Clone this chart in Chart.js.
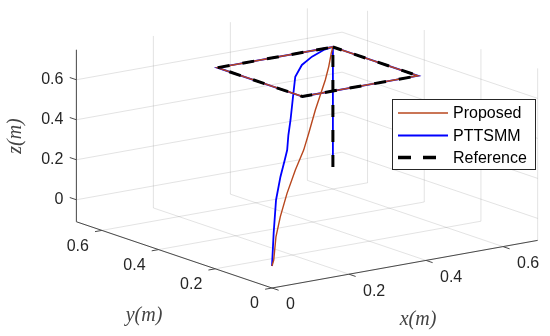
<!DOCTYPE html>
<html>
<head>
<meta charset="utf-8">
<script src="https://cdn.jsdelivr.net/npm/chart.js@4.4.0/dist/chart.umd.min.js"></script>
<style>
  body { margin: 0; background: #fff; }
  #wrap { width: 550px; height: 336px; }
</style>
</head>
<body>
<div id="wrap"><canvas id="chart" width="550" height="336"></canvas></div>
<script>
// axis limits and ticks (metres)
const xLim = [0, 0.69];
const yLim = [0, 0.69];
const zLim = [-0.11, 0.75];
const xTicks = [0, 0.2, 0.4, 0.6];
const yTicks = [0, 0.2, 0.4, 0.6];
const zTicks = [0, 0.2, 0.4, 0.6];
const tickLabels = ["0", "0.2", "0.4", "0.6"];

// series names
const seriesNames = ["Proposed", "PTTSMM", "Reference"];

// Proposed trajectory
const proposedX = [0, 0.017, 0.039, 0.082, 0.148, 0.23, 0.312, 0.362, 0.427, 0.476, 0.525, 0.559, 0.584, 0.6, 0.3, 0.3, 0.6, 0.6];
const proposedY = [0, 0.017, 0.039, 0.082, 0.148, 0.23, 0.312, 0.362, 0.427, 0.476, 0.525, 0.559, 0.584, 0.6, 0.6, 0.3, 0.3, 0.6];
const proposedZ = [0, 0.016, 0.114, 0.179, 0.241, 0.29, 0.322, 0.365, 0.428, 0.462, 0.497, 0.536, 0.582, 0.6, 0.6, 0.6, 0.6, 0.6];

// PTTSMM trajectory
const pttsmmX = [0, 0.008, 0.037, 0.061, 0.092, 0.116, 0.153, 0.202, 0.263, 0.327, 0.392, 0.461, 0.539, 0.6, 0.3, 0.3, 0.6, 0.6, 0.6];
const pttsmmY = [0, 0.005, 0.036, 0.053, 0.08, 0.104, 0.15, 0.209, 0.283, 0.362, 0.427, 0.485, 0.55, 0.6, 0.6, 0.3, 0.3, 0.6, 0.6];
const pttsmmZ = [0, 0.16, 0.3, 0.4, 0.46, 0.49, 0.53, 0.56, 0.62, 0.66, 0.665, 0.655, 0.63, 0.6, 0.6, 0.6, 0.6, 0.6, 0];

// Reference trajectory
const refX = [0.6, 0.6, 0.3, 0.3, 0.6, 0.6];
const refY = [0.6, 0.6, 0.6, 0.3, 0.3, 0.6];
const refZ = [0, 0.6, 0.6, 0.6, 0.6, 0.6];

// view: screen position of (0,0,0) and screen vectors of one unit along x, y, z
const O = [272, 266];
const EX = [385, -69];
const EY = [-283.5, -96];
const EZ = -200;

function proj(x, y, z) {
  return { x: O[0] + x * EX[0] + y * EY[0], y: O[1] + x * EX[1] + y * EY[1] + z * EZ };
}

function path(xs, ys, zs) {
  const pts = [];
  for (let i = 0; i < xs.length; i++) pts.push(proj(xs[i], ys[i], zs[i]));
  return pts;
}

const GAP = { x: NaN, y: NaN };

// grid lines on the back walls and the floor
const grid = [];
function seg(a, b) { grid.push(proj(a[0], a[1], a[2]), proj(b[0], b[1], b[2]), GAP); }
xTicks.forEach(t => {
  seg([t, yLim[1], zLim[0]], [t, yLim[1], zLim[1]]);
  seg([t, yLim[0], zLim[0]], [t, yLim[1], zLim[0]]);
});
yTicks.forEach(t => {
  seg([xLim[1], t, zLim[0]], [xLim[1], t, zLim[1]]);
  seg([xLim[0], t, zLim[0]], [xLim[1], t, zLim[0]]);
});
zTicks.forEach(t => {
  seg([xLim[0], yLim[1], t], [xLim[1], yLim[1], t]);
  seg([xLim[1], yLim[0], t], [xLim[1], yLim[1], t]);
});

// axis lines and tick marks
const axes = [];
function aseg(p, q) { axes.push(p, q, GAP); }
aseg(proj(xLim[0], yLim[0], zLim[0]), proj(xLim[1], yLim[0], zLim[0]));
aseg(proj(xLim[0], yLim[0], zLim[0]), proj(xLim[0], yLim[1], zLim[0]));
aseg(proj(xLim[0], yLim[1], zLim[0]), proj(xLim[0], yLim[1], zLim[1]));
const TL = 7;
function unit(v) { const l = Math.hypot(v[0], v[1]); return [v[0] / l, v[1] / l]; }
const uX = unit(EX), uY = unit(EY);
xTicks.forEach(t => {
  const p = proj(t, yLim[0], zLim[0]);
  aseg(p, { x: p.x - uY[0] * TL, y: p.y - uY[1] * TL });
});
yTicks.forEach(t => {
  const p = proj(xLim[0], t, zLim[0]);
  aseg(p, { x: p.x - uX[0] * TL, y: p.y - uX[1] * TL });
});
zTicks.forEach(t => {
  const p = proj(xLim[0], yLim[1], t);
  aseg(p, { x: p.x + uY[0] * TL, y: p.y + uY[1] * TL });
});

const colors = ["#b8471e", "#0000ff", "#000000"];

const labelsPlugin = {
  id: "labels3d",
  afterDatasetsDraw(chart) {
    const ctx = chart.ctx;
    ctx.save();
    ctx.fillStyle = "#262626";
    ctx.font = "16px 'Liberation Sans', Arial, sans-serif";
    // z tick labels
    ctx.textAlign = "right";
    ctx.textBaseline = "middle";
    zTicks.forEach((t, i) => {
      const p = proj(xLim[0], yLim[1], t);
      ctx.fillText(tickLabels[i], p.x - 13, p.y);
    });
    // y tick labels
    yTicks.forEach((t, i) => {
      const p = proj(xLim[0], t, zLim[0]);
      ctx.fillText(tickLabels[i], p.x - 13, p.y + 16);
    });
    // x tick labels
    ctx.textAlign = "left";
    xTicks.forEach((t, i) => {
      const p = proj(t, yLim[0], zLim[0]);
      ctx.fillText(tickLabels[i], p.x + 14, p.y + 17);
    });
    // axis labels
    ctx.fillStyle = "#444";
    ctx.font = "italic 20px 'Liberation Serif', 'DejaVu Serif', serif";
    ctx.textAlign = "center";
    ctx.fillText("x(m)", 418, 320);
    ctx.fillText("y(m)", 144, 316);
    ctx.save();
    ctx.translate(16, 136);
    ctx.rotate(-Math.PI / 2);
    ctx.fillText("z(m)", 0, 0);
    ctx.restore();

    // legend
    const bx = 392.5, by = 99.5, bw = 143, bh = 70;
    ctx.fillStyle = "#fff";
    ctx.fillRect(bx, by, bw, bh);
    ctx.strokeStyle = "#262626";
    ctx.lineWidth = 1;
    ctx.strokeRect(bx, by, bw, bh);
    const rows = [113, 135.5, 157.5];
    ctx.font = "16px 'Liberation Sans', Arial, sans-serif";
    ctx.textAlign = "left";
    seriesNames.forEach((name, i) => {
      ctx.beginPath();
      ctx.strokeStyle = colors[i];
      ctx.lineWidth = i === 2 ? 3.5 : (i === 1 ? 2 : 1.5);
      ctx.setLineDash(i === 2 ? [13, 12] : []);
      ctx.moveTo(398, rows[i]);
      ctx.lineTo(448, rows[i]);
      ctx.stroke();
      ctx.setLineDash([]);
      ctx.fillStyle = "#000";
      ctx.fillText(name, 453, rows[i] + 1);
    });
    ctx.restore();
  }
};

new Chart(document.getElementById("chart"), {
  type: "scatter",
  data: {
    datasets: [
      { data: grid, showLine: true, borderColor: "rgba(38,38,38,0.13)", borderWidth: 1, pointRadius: 0, order: 6 },
      { data: axes, showLine: true, borderColor: "#4a4a4a", borderWidth: 1, pointRadius: 0, order: 5 },
      { label: seriesNames[1], data: path(pttsmmX, pttsmmY, pttsmmZ), showLine: true, borderColor: colors[1], borderWidth: 1.8, pointRadius: 0, tension: 0, order: 3 },
      { label: seriesNames[0], data: path(proposedX, proposedY, proposedZ), showLine: true, borderColor: colors[0], borderWidth: 1.4, pointRadius: 0, tension: 0, order: 2 },
      { label: seriesNames[2], data: path(refX, refY, refZ), showLine: true, borderColor: colors[2], borderWidth: 3, borderDash: [12, 13], pointRadius: 0, order: 1 }
    ]
  },
  options: {
    responsive: false,
    devicePixelRatio: 1,
    animation: false,
    layout: { padding: 0 },
    plugins: { legend: { display: false }, tooltip: { enabled: false } },
    scales: {
      x: { type: "linear", min: 0, max: 550, display: false },
      y: { type: "linear", min: 0, max: 336, reverse: true, display: false }
    }
  },
  plugins: [labelsPlugin]
});
</script>
</body>
</html>
